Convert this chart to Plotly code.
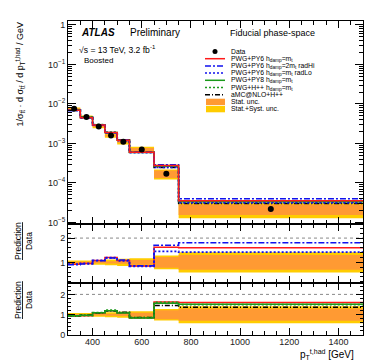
import plotly.graph_objects as go

# ---------------- data ----------------
edges = [300, 350, 400, 450, 500, 550, 650, 750, 1500]
data = [7.5e-3, 4.7e-3, 2.7e-3, 1.58e-3, 1.11e-3, 7.0e-4, 1.7e-4, 2.2e-5]
stat_rel = [0.03, 0.03, 0.04, 0.05, 0.06, 0.10, 0.22, 0.30]
tot_rel = [0.08, 0.08, 0.10, 0.12, 0.15, 0.17, 0.28, 0.42]

ratio_pwgpy6 = [0.92, 0.95, 1.08, 1.20, 1.08, 0.85, 1.62, 1.60]
ratio_radhi = [0.90, 0.93, 1.07, 1.18, 1.10, 0.86, 1.70, 1.81]
ratio_radlo = [0.93, 0.96, 1.08, 1.19, 1.06, 0.84, 1.45, 1.42]
ratio_pwgpy8 = [0.95, 0.97, 1.10, 1.20, 1.08, 0.84, 1.56, 1.52]
ratio_pwghpp = [0.93, 0.96, 1.10, 1.22, 1.10, 0.86, 1.60, 1.50]
ratio_amc = [0.95, 0.98, 1.08, 1.18, 1.12, 0.86, 1.45, 1.36]

x_ticks = [400, 600, 800, 1000, 1200, 1400]
y_main_ticks = [1e-5, 1e-4, 1e-3, 1e-2, 1e-1, 1]
y_main_labels = ["10<sup>\u22125</sup>", "10<sup>\u22124</sup>", "10<sup>\u22123</sup>",
                 "10<sup>\u22122</sup>", "10<sup>\u22121</sup>", "1"]

# ---------------- layout helpers ----------------
W, H = 374, 363
L, R, T, B = 60, 355, 13, 327
def px(x):
    return (x - L) / (R - L)
def py(y):
    return (B - y) / (B - T)

FONT = "Liberation Sans, Arial, Helvetica, sans-serif"
RED = "#ff1a1a"
BLUE = "#1010ee"
GREEN = "#1a991a"
ORANGE = "#ff9a33"
YELLOW = "#ffcc00"

centers = [(edges[i] + edges[i + 1]) / 2 for i in range(len(data))]

def step(vals):
    return list(edges), list(vals) + [vals[-1]]

def band_poly(lo, hi):
    xs, ys = [], []
    for i in range(len(lo)):
        xs += [edges[i], edges[i + 1]]
        ys += [hi[i], hi[i]]
    for i in reversed(range(len(lo))):
        xs += [edges[i + 1], edges[i]]
        ys += [lo[i], lo[i]]
    return xs + [xs[0]], ys + [ys[0]]

fig = go.Figure()

def add_band(rel, color, xa, ya, scale):
    lo = [s * (1 - r) for s, r in zip(scale, rel)]
    hi = [s * (1 + r) for s, r in zip(scale, rel)]
    xs, ys = band_poly(lo, hi)
    fig.add_trace(go.Scatter(x=xs, y=ys, fill="toself", fillcolor=color, mode="none",
                             xaxis=xa, yaxis=ya, showlegend=False, hoverinfo="skip"))

def add_line(vals, color, dash, width, xa, ya):
    xs, ys = step(vals)
    fig.add_trace(go.Scatter(x=xs, y=ys, mode="lines", line=dict(color=color, dash=dash, width=width, shape="hv"),
                             xaxis=xa, yaxis=ya, showlegend=False, hoverinfo="skip"))

ones = [1.0] * len(data)

# main panel
add_band(tot_rel, YELLOW, "x", "y", data)
add_band(stat_rel, ORANGE, "x", "y", data)
styles = [
    (ratio_amc, "black", "5px,2px,1px,2px", 1.5),
    (ratio_pwghpp, GREEN, "2px,2px", 1.8),
    (ratio_pwgpy8, GREEN, "solid", 1.5),
    (ratio_radlo, BLUE, "2px,2px", 1.8),
    (ratio_radhi, BLUE, "6px,2px,2px,2px", 1.5),
    (ratio_pwgpy6, RED, "solid", 1.5),
]
for rat, c, d, w in styles:
    add_line([a * b for a, b in zip(rat, data)], c, d, w, "x", "y")
fig.add_trace(go.Scatter(x=centers, y=data, mode="markers", marker=dict(color="black", size=6),
                         xaxis="x", yaxis="y", showlegend=False, hoverinfo="skip"))

# ratio panel 1
add_band(tot_rel, YELLOW, "x2", "y2", ones)
add_band(stat_rel, ORANGE, "x2", "y2", ones)
add_line(ratio_pwgpy6, RED, "solid", 1.5, "x2", "y2")
add_line(ratio_radhi, BLUE, "6px,2px,2px,2px", 1.5, "x2", "y2")
add_line(ratio_radlo, BLUE, "2px,2px", 1.8, "x2", "y2")

# ratio panel 2
add_band(tot_rel, YELLOW, "x3", "y3", ones)
add_band(stat_rel, ORANGE, "x3", "y3", ones)
add_line(ratio_pwgpy6, RED, "solid", 1.5, "x3", "y3")
add_line(ratio_amc, "black", "5px,2px,1px,2px", 1.5, "x3", "y3")
add_line(ratio_pwgpy8, GREEN, "solid", 1.5, "x3", "y3")
add_line(ratio_pwghpp, GREEN, "2px,2px", 1.8, "x3", "y3")

# ---------------- axes ----------------
xcommon = dict(range=[edges[0], edges[-1]], showline=True, linecolor="black", linewidth=1,
               mirror="ticks", ticks="inside", ticklen=7, tickcolor="black",
               tickvals=x_ticks, showgrid=False, zeroline=False,
               minor=dict(ticks="inside", ticklen=4, dtick=50, tick0=0, tickcolor="black", showgrid=False),
               tickfont=dict(family=FONT, size=9, color="#222"))

minor_log = [m * 10 ** k for k in range(-5, 1) for m in range(2, 10)]

main_lo, main_hi = -5.04, 0.10
r1_lo, r1_hi = 0.15, 2.58
r2_lo, r2_hi = 0.0, 2.56

fig.update_layout(
    width=W, height=H,
    margin=dict(l=L, r=W - R, t=T, b=H - B),
    paper_bgcolor="white", plot_bgcolor="white",
    font=dict(family=FONT, size=9, color="black"),
    xaxis=dict(xcommon, domain=[0, 1], anchor="y", showticklabels=False),
    xaxis2=dict(xcommon, domain=[0, 1], anchor="y2", showticklabels=False, matches="x"),
    xaxis3=dict(xcommon, domain=[0, 1], anchor="y3", showticklabels=True, matches="x",
                ticklabelstandoff=-2),
    yaxis=dict(type="log", domain=[py(216), 1], range=[main_lo, main_hi], anchor="x",
               showline=True, linecolor="black", linewidth=1, mirror="ticks",
               ticks="inside", ticklen=8, tickcolor="black",
               tickvals=y_main_ticks, ticktext=y_main_labels, showgrid=False, zeroline=False,
               minor=dict(ticks="inside", ticklen=4, tickvals=minor_log, tickcolor="black", showgrid=False),
               tickfont=dict(family=FONT, size=9, color="#222")),
    yaxis2=dict(domain=[py(275), py(216)], range=[r1_lo, r1_hi], anchor="x2",
                showline=True, linecolor="black", linewidth=1, mirror="ticks",
                ticks="inside", ticklen=7, tickcolor="black", tickvals=[1, 2],
                showgrid=False, zeroline=False,
                minor=dict(ticks="inside", ticklen=3, dtick=0.2, tick0=0, tickcolor="black", showgrid=False),
                tickfont=dict(family=FONT, size=9, color="#222")),
    yaxis3=dict(domain=[0, py(275)], range=[r2_lo, r2_hi], anchor="x3",
                showline=True, linecolor="black", linewidth=1, mirror="ticks",
                ticks="inside", ticklen=7, tickcolor="black", tickvals=[0, 1, 2],
                showgrid=False, zeroline=False,
                minor=dict(ticks="inside", ticklen=3, dtick=0.2, tick0=0, tickcolor="black", showgrid=False),
                tickfont=dict(family=FONT, size=9, color="#222")),
    showlegend=False,
)

shapes = []
# dotted reference lines at 2
for ya in ["y2", "y3"]:
    shapes.append(dict(type="line", xref="paper", yref=ya, x0=0, x1=1, y0=2, y1=2,
                       line=dict(color="#888", width=1, dash="dot"), layer="below"))

annotations = []
def text(x, y, s, size, xanchor="left", yanchor="middle", angle=0, color="black"):
    annotations.append(dict(x=px(x), y=py(y), xref="paper", yref="paper", text=s, showarrow=False,
                            xanchor=xanchor, yanchor=yanchor, textangle=angle, borderpad=0,
                            font=dict(family=FONT, size=size, color=color)))

# ATLAS label
text(72, 24.5, "<b><i>ATLAS</i></b>", 10)
text(121, 24.5, "Preliminary", 10)
text(70, 41.5, "\u221as = 13 TeV, 3.2 fb<sup>-1</sup>", 8.6)
text(75, 53, "Boosted", 8)
text(264, 24.5, "Fiducial phase-space", 9, xanchor="center")

# legend
leg_y0, leg_dy = 43.5, 7.2
leg_entries = [
    ("marker", "black", None, "Data"),
    ("line", RED, "solid", "PWG+PY6 h<sub>damp</sub>=m<sub>t</sub>"),
    ("line", BLUE, "6px,2px,2px,2px", "PWG+PY6 h<sub>damp</sub>=2m<sub>t</sub> radHi"),
    ("line", BLUE, "2px,2px", "PWG+PY6 h<sub>damp</sub>=m<sub>t</sub> radLo"),
    ("line", GREEN, "solid", "PWG+PY8 h<sub>damp</sub>=m<sub>t</sub>"),
    ("line", GREEN, "2px,2px", "PWG+H++ h<sub>damp</sub>=m<sub>t</sub>"),
    ("line", "black", "5px,2px,1px,2px", "aMC@NLO+H++"),
    ("box", ORANGE, None, "Stat. unc."),
    ("box", YELLOW, None, "Stat.+Syst. unc."),
]
for i, (kind, col, dash, lab) in enumerate(leg_entries):
    yy = leg_y0 + i * leg_dy
    if kind == "marker":
        shapes.append(dict(type="circle", xref="paper", yref="paper",
                           x0=px(204.5), x1=px(209.5), y0=py(yy + 2.5), y1=py(yy - 2.5),
                           fillcolor="black", line=dict(color="black", width=0)))
    elif kind == "line":
        shapes.append(dict(type="line", xref="paper", yref="paper",
                           x0=px(197), x1=px(217), y0=py(yy), y1=py(yy),
                           line=dict(color=col, width=1.5, dash=dash)))
    else:
        shapes.append(dict(type="rect", xref="paper", yref="paper",
                           x0=px(198), x1=px(217), y0=py(yy + 3.2), y1=py(yy - 3.2),
                           fillcolor=col, line=dict(width=0)))
    text(222, yy, lab, 6.8)

# axis titles
text(12, 13, "1/\u03c3<sub>tt\u0304</sub> \u00b7 d \u03c3<sub>tt\u0304</sub> / d p<sub>T</sub><sup>t,had</sup> / GeV",
     9, xanchor="center", yanchor="top", angle=-90)
for yc in [233, 292]:
    text(15, yc, "<u>Prediction</u><br>Data", 8.5, xanchor="center", yanchor="middle", angle=-90)
text(347, 346, "p<sub>T</sub><sup>t,had</sup> [GeV]", 10, xanchor="right")

fig.update_layout(shapes=shapes, annotations=annotations)
fig.write_html("out.html")
